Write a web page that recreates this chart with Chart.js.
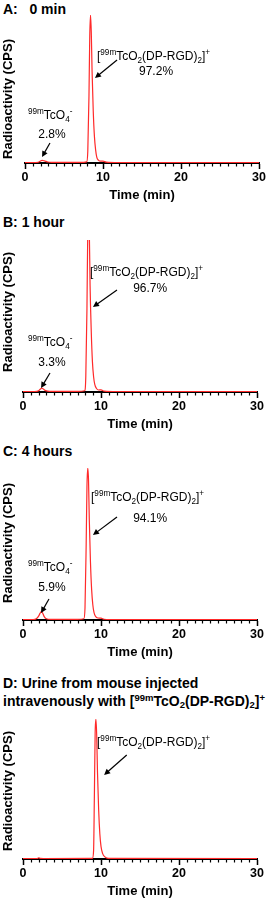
<!DOCTYPE html>
<html>
<head>
<meta charset="utf-8">
<script src="https://cdn.jsdelivr.net/npm/chart.js@4.4.0/dist/chart.umd.min.js"></script>
<style>
  body { margin: 0; background: #fff; width: 274px; height: 902px; position: relative; overflow: hidden;
         font-family: "Liberation Sans", Arial, sans-serif; }
  .ttl { position: absolute; left: 3px; font-weight: bold; font-size: 14px; line-height: 18px; color: #000; white-space: nowrap; }
  .ttl sup { font-size: 9.5px; vertical-align: 5px; line-height: 0; }
  .ttl sub { font-size: 9.5px; vertical-align: -2px; line-height: 0; }
  canvas { position: absolute; left: 0; }
</style>
</head>
<body>
<div class="ttl" style="top:0px">A:&nbsp;&nbsp;&nbsp;0 min</div>
<div class="ttl" style="top:213px">B: 1 hour</div>
<div class="ttl" style="top:442px">C: 4 hours</div>
<div class="ttl" style="top:674px">D: Urine from mouse injected<br>intravenously with [<sup>99m</sup>TcO<sub>2</sub>(DP-RGD)<sub>2</sub>]<sup>+</sup></div>

<canvas id="cA" width="274" height="193" style="top:10px"></canvas>
<canvas id="cB" width="274" height="200" style="top:232px"></canvas>
<canvas id="cC" width="274" height="200" style="top:460px"></canvas>
<canvas id="cD" width="274" height="187" style="top:712px"></canvas>

<script>
// retention time (min) and radioactivity (% of main peak)
const tA = [0, 1.0, 1.7, 2.0, 2.2, 2.5, 2.9, 3.5, 7.0, 7.9, 8.05, 8.2, 8.3, 8.4, 8.5, 8.6, 8.75, 8.9, 9.05, 9.2, 9.4, 9.7, 10.0, 10.4, 12, 30]
const vA = [0.3, 0.3, 0.5, 1.4, 1.8, 1.4, 0.7, 0.4, 0.4, 0.8, 8, 45, 85, 100, 88, 62, 35, 18, 9, 4, 2, 1.2, 1.3, 0.6, 0.3, 0.3]

const tB = [0, 1.5, 2.0, 2.2, 2.4, 2.6, 2.9, 3.4, 7.0, 7.9, 8.05, 8.2, 8.3, 8.4, 8.5, 8.6, 8.75, 8.9, 9.05, 9.2, 9.4, 9.7, 10.0, 10.4, 12, 30]
const vB = [0.3, 0.3, 0.8, 1.8, 2.6, 2.0, 0.9, 0.4, 0.4, 0.8, 10, 55, 104, 112, 106, 70, 40, 20, 10, 5, 2.5, 1.3, 1.4, 0.6, 0.3, 0.3]

const tC = [0, 1.3, 1.7, 2.0, 2.2, 2.35, 2.5, 2.7, 3.0, 3.5, 7.0, 7.8, 7.95, 8.1, 8.2, 8.3, 8.4, 8.5, 8.65, 8.8, 8.95, 9.1, 9.3, 9.6, 10.0, 10.4, 12, 30]
const vC = [0.3, 0.3, 0.8, 2.5, 4.5, 5.5, 4.8, 2.4, 0.8, 0.4, 0.4, 0.8, 8, 50, 88, 100, 92, 66, 38, 20, 10, 5, 2.4, 1.3, 1.2, 0.5, 0.3, 0.3]

const tD = [0, 1.8, 2.0, 2.2, 2.6, 8.9, 9.05, 9.15, 9.25, 9.35, 9.45, 9.55, 9.7, 9.85, 10.0, 10.2, 10.5, 11, 30]
const vD = [0.3, 0.3, 0.9, 0.4, 0.3, 0.5, 6, 45, 90, 100, 88, 62, 35, 18, 9, 4, 1.5, 0.4, 0.3]

const xTicks = [0, 10, 20, 30]
const mainPeak = '[^{99m}TcO_{2}(DP-RGD)_{2}]^{+}'
const pertech = '^{99m}TcO_{4}^{-}'

// draws text with ^{} superscripts and _{} subscripts, y = middle of the normal text
function richText(ctx, str, x, y, size, align) {
    const parts = str.split(/(\^\{[^}]*\}|_\{[^}]*\})/).filter(s => s.length)
    const small = size * 0.68
    const segs = parts.map(p => {
        if (p[0] === '^') return { t: p.slice(2, -1), s: small, dy: -size * 0.42 }
        if (p[0] === '_') return { t: p.slice(2, -1), s: small, dy: size * 0.22 }
        return { t: p, s: size, dy: 0 }
    })
    let w = 0
    segs.forEach(g => { ctx.font = g.s + 'px "Liberation Sans", Arial'; g.w = ctx.measureText(g.t).width; w += g.w })
    let cx = align === 'center' ? x - w / 2 : x
    ctx.textBaseline = 'alphabetic'
    ctx.textAlign = 'left'
    segs.forEach(g => {
        ctx.font = g.s + 'px "Liberation Sans", Arial'
        ctx.fillText(g.t, cx, y + size * 0.36 + g.dy)
        cx += g.w
    })
}

const notesPlugin = {
    id: 'notes',
    afterDraw(chart, args, opts) {
        const ctx = chart.ctx
        const xs = chart.scales.x, ys = chart.scales.y
        const area = chart.chartArea
        ctx.save()
        ctx.fillStyle = '#000'
        ctx.strokeStyle = '#000'

        // minor ticks every minute
        ctx.lineWidth = 1.2
        for (let m = 0; m <= 30; m++) {
            if (m % 10 === 0) continue
            const px = Math.round(xs.getPixelForValue(m)) + 0.5
            ctx.beginPath()
            ctx.moveTo(px, area.bottom)
            ctx.lineTo(px, area.bottom + 3.5)
            ctx.stroke()
        }

        (opts.labels || []).forEach(l => {
            richText(ctx, l.text, xs.getPixelForValue(l.x), ys.getPixelForValue(l.y), 12, l.align)
        });

        (opts.arrows || []).forEach(a => {
            const x1 = xs.getPixelForValue(a[0]), y1 = ys.getPixelForValue(a[1])
            const x2 = xs.getPixelForValue(a[2]), y2 = ys.getPixelForValue(a[3])
            const ang = Math.atan2(y2 - y1, x2 - x1)
            const hl = 6, hw = 3
            ctx.lineWidth = 1.2
            ctx.beginPath()
            ctx.moveTo(x1, y1)
            ctx.lineTo(x2 - Math.cos(ang) * hl * 0.8, y2 - Math.sin(ang) * hl * 0.8)
            ctx.stroke()
            ctx.beginPath()
            ctx.moveTo(x2, y2)
            ctx.lineTo(x2 - Math.cos(ang) * hl - Math.sin(ang) * hw, y2 - Math.sin(ang) * hl + Math.cos(ang) * hw)
            ctx.lineTo(x2 - Math.cos(ang) * hl + Math.sin(ang) * hw, y2 - Math.sin(ang) * hl - Math.cos(ang) * hw)
            ctx.closePath()
            ctx.fill()
        })

        // y axis title
        ctx.translate(8, area.bottom - opts.yTitleOffset)
        ctx.rotate(-Math.PI / 2)
        ctx.font = 'bold 13px "Liberation Sans", Arial'
        ctx.textAlign = 'center'
        ctx.textBaseline = 'middle'
        ctx.fillText('Radioactivity (CPS)', 0, 0)
        ctx.restore()
    }
}

function hplc(id, times, vals, pad, notes) {
    const ctx = document.getElementById(id)
    return new Chart(ctx, {
        type: 'line',
        data: {
            labels: times,
            datasets: [{
                data: times.map((t, i) => ({ x: t, y: vals[i] })),
                borderColor: '#ff2a2a',
                borderWidth: 1.2,
                pointRadius: 0,
                cubicInterpolationMode: 'monotone',
                fill: false
            }]
        },
        options: {
            responsive: false,
            animation: false,
            devicePixelRatio: 1,
            layout: { padding: pad },
            plugins: {
                legend: { display: false },
                tooltip: { enabled: false },
                notes: notes
            },
            scales: {
                x: {
                    type: 'linear',
                    min: 0,
                    max: 30,
                    afterBuildTicks(s) { s.ticks = xTicks.map(v => ({ value: v })) },
                    afterFit(s) { s.height = 40 },
                    ticks: {
                        color: '#000',
                        padding: 1,
                        maxRotation: 0,
                        font: { family: '"Liberation Sans", Arial', size: 12.5, weight: 'bold' }
                    },
                    grid: {
                        drawOnChartArea: false,
                        drawTicks: true,
                        tickLength: 6,
                        tickWidth: 1.5,
                        tickColor: '#000'
                    },
                    border: { color: '#000', width: 2 },
                    title: {
                        display: true,
                        text: 'Time (min)',
                        color: '#000',
                        padding: { top: 0, bottom: 0 },
                        font: { family: '"Liberation Sans", Arial', size: 13, weight: 'bold' }
                    }
                },
                y: {
                    display: false,
                    min: 0,
                    max: 100
                }
            }
        },
        plugins: [notesPlugin]
    })
}

hplc('cA', tA, vA, { top: 5, left: 25, right: 15, bottom: 0 }, {
    yTitleOffset: 64,
    labels: [
        { x: 9.23, y: 72.3, text: mainPeak, align: 'left' },
        { x: 16.8, y: 62.2, text: '97.2%', align: 'center' },
        { x: 0.38, y: 32.4, text: pertech, align: 'left' },
        { x: 3.46, y: 19.6, text: '2.8%', align: 'center' }
    ],
    arrows: [[11.8, 69.6, 8.97, 57.4], [3.2, 13.5, 2.18, 4]]
})

hplc('cB', tB, vB, { top: 8, left: 23, right: 17, bottom: 0 }, {
    yTitleOffset: 80,
    labels: [
        { x: 8.59, y: 78.9, text: mainPeak, align: 'left' },
        { x: 16.3, y: 68.4, text: '96.7%', align: 'center' },
        { x: 0.64, y: 32.9, text: pertech, align: 'left' },
        { x: 3.72, y: 19.7, text: '3.3%', align: 'center' }
    ],
    arrows: [[12.05, 67.1, 8.97, 55.9], [3.46, 12.5, 2.31, 2.6]]
})

hplc('cC', tC, vC, { top: 8, left: 23, right: 17, bottom: 0 }, {
    yTitleOffset: 77,
    labels: [
        { x: 8.72, y: 80.9, text: mainPeak, align: 'left' },
        { x: 16.3, y: 67.1, text: '94.1%', align: 'center' },
        { x: 0.64, y: 34.9, text: pertech, align: 'left' },
        { x: 3.72, y: 21.7, text: '5.9%', align: 'center' }
    ],
    arrows: [[12.05, 67.8, 8.97, 55.9], [3.33, 13.8, 2.31, 4.6]]
})

hplc('cD', tD, vD, { top: 7, left: 23, right: 17, bottom: 0 }, {
    yTitleOffset: 68,
    labels: [
        { x: 9.49, y: 83.6, text: mainPeak, align: 'left' }
    ],
    arrows: [[13.3, 74.3, 10.4, 60]]
})
</script>
</body>
</html>
